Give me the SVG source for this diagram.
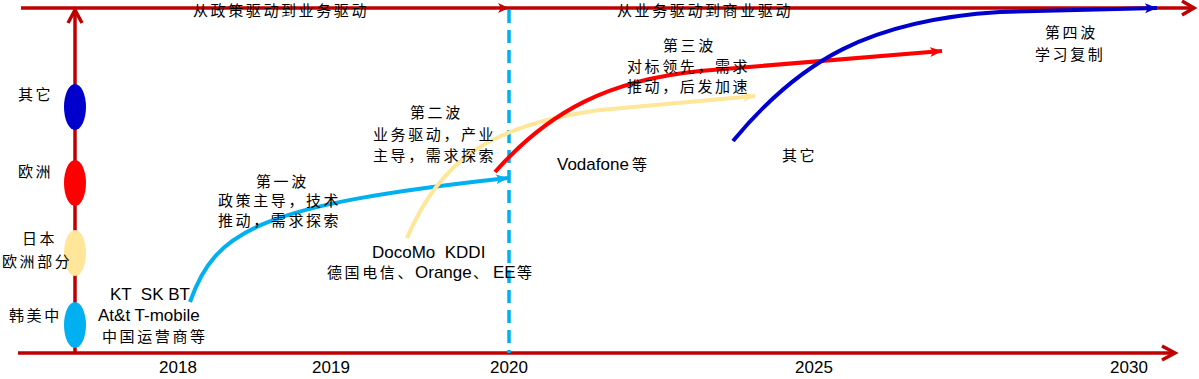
<svg xmlns="http://www.w3.org/2000/svg" width="1199" height="379" viewBox="0 0 1199 379">
<style>
.cn{font-family:"Noto Sans CJK SC","Noto Sans",sans-serif;font-size:15px;letter-spacing:2.6px;fill:#000}
.en{font-family:"Liberation Sans",Arial,"Noto Sans CJK SC",sans-serif;font-size:17px;fill:#000}
.yr{font-family:"Liberation Sans",Arial,sans-serif;font-size:17px;fill:#000;text-anchor:middle}
.axis{stroke:#c00000;stroke-width:3.5;fill:none}
.chev{stroke:#c00000;stroke-width:3.5;fill:none;stroke-linecap:butt;stroke-linejoin:miter}
.wave{fill:none;stroke-width:4;stroke-linecap:butt}
</style>
<defs>
<marker id="mRedAxis" markerUnits="userSpaceOnUse" markerWidth="14" markerHeight="12" refX="11" refY="5" orient="auto"><path d="M0,0 L11,5 L0,10 L3,5 z" fill="#c00000"/></marker>
<marker id="mLB" markerUnits="userSpaceOnUse" markerWidth="14" markerHeight="12" refX="12" refY="5" orient="auto"><path d="M0,0 L12,5 L0,10 L3,5 z" fill="#00b0f0"/></marker>
<marker id="mY" markerUnits="userSpaceOnUse" markerWidth="14" markerHeight="12" refX="12" refY="5" orient="auto"><path d="M0,0 L12,5 L0,10 L3,5 z" fill="#ffe699"/></marker>
<marker id="mR" markerUnits="userSpaceOnUse" markerWidth="14" markerHeight="12" refX="12" refY="5" orient="auto"><path d="M0,0 L12,5 L0,10 L3,5 z" fill="#ff0000"/></marker>
<marker id="mB" markerUnits="userSpaceOnUse" markerWidth="14" markerHeight="12" refX="12" refY="5" orient="auto"><path d="M0,0 L12,5 L0,10 L3,5 z" fill="#0000cc"/></marker>
</defs>

<g id="axes">
  <line class="axis" x1="21" y1="8" x2="509" y2="8" marker-end="url(#mRedAxis)"/>
  <line class="axis" x1="509" y1="8" x2="1194" y2="8"/>
  <polyline class="chev" points="1182,1 1194,8 1182,15"/>
  <line class="axis" x1="18" y1="353" x2="1175" y2="353"/>
  <polyline class="chev" points="1162,346 1175,353 1162,360"/>
  <line class="axis" x1="75" y1="353" x2="75" y2="11"/>
  <polyline class="chev" points="68,23 75,10 82,23"/>
  <line x1="509" y1="10" x2="509" y2="353" stroke="#00b0f0" stroke-width="3.5" stroke-dasharray="13 7"/>
</g>

<g id="connectors">
  <path class="wave" stroke="#00b0f0" d="M190,302 C215,230 260,205 508,178" marker-end="url(#mLB)"/>
  <path class="wave" stroke="#ffe699" d="M407,238 C440,160 490,125 600,110 L755,96" marker-end="url(#mY)"/>
  <path class="wave" stroke="#ff0000" d="M495,172 C550,110 610,80 700,71 L942,51" marker-end="url(#mR)"/>
  <path class="wave" stroke="#0000cc" d="M733,141 C800,60 870,20 1000,12 L1157,8" marker-end="url(#mB)"/>
</g>

<g id="node-other">
  <ellipse cx="75" cy="107" rx="11" ry="23" fill="#0000cc"/>
  <text class="cn" x="18" y="100">其它</text>
</g>
<g id="node-europe">
  <ellipse cx="75" cy="183" rx="11" ry="23" fill="#ff0000"/>
  <text class="cn" x="18" y="177">欧洲</text>
</g>
<g id="node-japan">
  <ellipse cx="75" cy="253" rx="11" ry="23" fill="#ffe699"/>
  <text class="cn" x="22" y="244">日本</text>
  <text class="cn" x="2" y="267">欧洲部分</text>
</g>
<g id="node-kr-us-cn">
  <ellipse cx="75" cy="325" rx="11" ry="23" fill="#00b0f0"/>
  <text class="cn" x="9" y="321">韩美中</text>
</g>

<g id="labels">
  <text class="cn" x="193" y="16">从政策驱动到业务驱动</text>
  <text class="cn" x="617" y="16">从业务驱动到商业驱动</text>

  <text class="cn" x="256" y="187">第一波</text>
  <text class="cn" x="218" y="206">政策主导，技术</text>
  <text class="cn" x="218" y="226">推动，需求探索</text>

  <text class="cn" x="410" y="118">第二波</text>
  <text class="cn" x="373" y="140">业务驱动，产业</text>
  <text class="cn" x="373" y="161">主导，需求探索</text>

  <text class="cn" x="663" y="51">第三波</text>
  <text class="cn" x="627" y="72">对标领先，需求</text>
  <text class="cn" x="627" y="92">推动，后发加速</text>

  <text class="cn" x="1045" y="38">第四波</text>
  <text class="cn" x="1035" y="60">学习复制</text>

  <text class="cn" x="782" y="161">其它</text>

  <text class="en" x="557" y="170">Vodafone<tspan class="cn" x="632" style="letter-spacing:0">等</tspan></text>

  <text class="en" x="372" y="258" xml:space="preserve">DocoMo  KDDI</text>
  <text class="cn" x="327" y="278">德国电信、<tspan class="en" x="415" style="letter-spacing:0">Orange</tspan><tspan x="473">、</tspan><tspan class="en" x="493" style="letter-spacing:0">EE</tspan><tspan x="517">等</tspan></text>

  <text class="en" x="110" y="300" xml:space="preserve">KT  SK BT</text>
  <text class="en" x="98" y="321">At&amp;t T-mobile</text>
  <text class="cn" x="102" y="342">中国运营商等</text>

  <text class="yr" x="178" y="373">2018</text>
  <text class="yr" x="331" y="373">2019</text>
  <text class="yr" x="509" y="373">2020</text>
  <text class="yr" x="814" y="373">2025</text>
  <text class="yr" x="1129" y="373">2030</text>
</g>
</svg>
